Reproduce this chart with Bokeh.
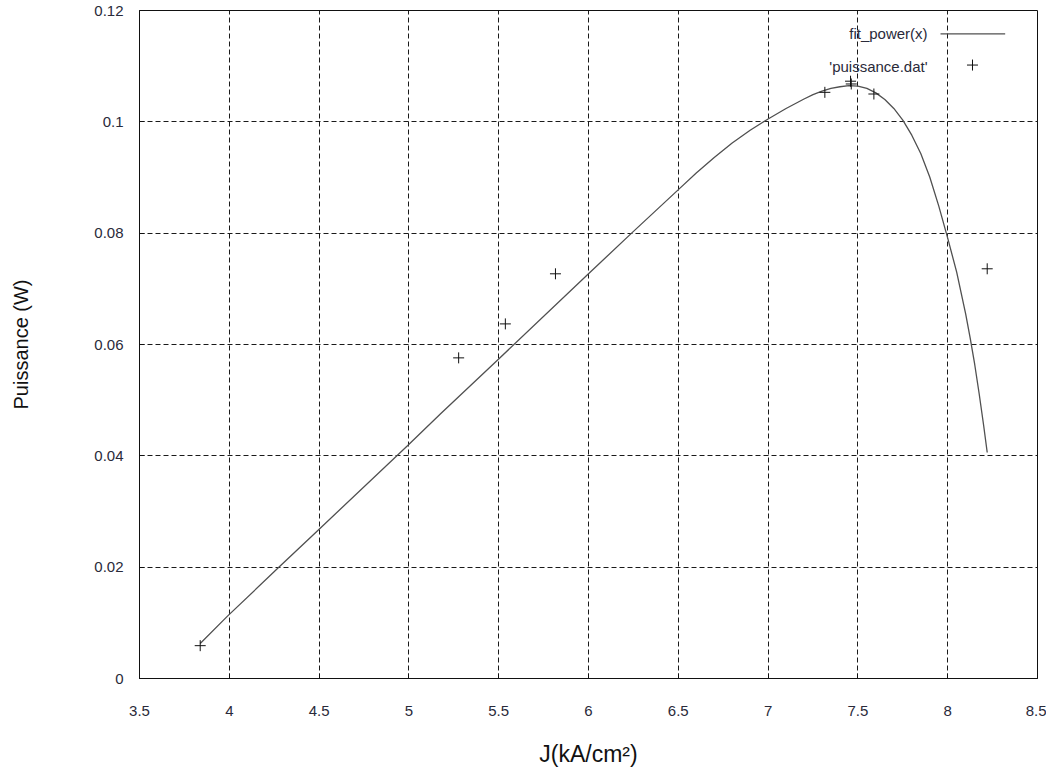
from bokeh.plotting import figure
from bokeh.models import Range1d, FixedTicker, Label, Arrow, Scatter, ColumnDataSource
from bokeh.embed import file_html
from bokeh.resources import INLINE

# measured data points ('puissance.dat')
j_data = [3.838, 5.277, 5.537, 5.816, 7.316, 7.459, 7.463, 7.589, 8.220]
p_data = [0.0059, 0.0576, 0.0637, 0.0727, 0.1053, 0.1073, 0.1068, 0.1050, 0.0736]

# fitted curve fit_power(x)
j_fit = [3.838, 3.990, 4.283, 4.493, 4.992, 5.175, 5.500, 6.000, 6.243, 6.493,
         6.600, 6.700, 6.800, 6.900, 7.000, 7.100, 7.200, 7.250, 7.300, 7.350,
         7.400, 7.450, 7.500, 7.550, 7.600, 7.650, 7.700, 7.750, 7.800, 7.850,
         7.900, 7.950, 8.000, 8.050, 8.100, 8.125, 8.150, 8.175, 8.200, 8.220]
p_fit = [0.0063, 0.0112, 0.0202, 0.0266, 0.0418, 0.0475, 0.0574, 0.0727, 0.0801, 0.0876,
         0.0908, 0.0936, 0.0962, 0.0985, 0.1005, 0.1024, 0.1041, 0.1049, 0.1055, 0.1060,
         0.1063, 0.1065, 0.1064, 0.1060, 0.1052, 0.1040, 0.1024, 0.1003, 0.0976, 0.0943,
         0.0901, 0.0849, 0.0791, 0.0730, 0.0655, 0.0612, 0.0565, 0.0512, 0.0455, 0.0406]

x_ticks = [3.5, 4, 4.5, 5, 5.5, 6, 6.5, 7, 7.5, 8, 8.5]
y_ticks = [0, 0.02, 0.04, 0.06, 0.08, 0.1, 0.12]
x_tick_labels = {3.5: "3.5", 4: "4", 4.5: "4.5", 5: "5", 5.5: "5.5", 6: "6",
                 6.5: "6.5", 7: "7", 7.5: "7.5", 8: "8", 8.5: "8.5"}
y_tick_labels = {0: "0", 0.02: "0.02", 0.04: "0.04", 0.06: "0.06",
                 0.08: "0.08", 0.1: "0.1", 0.12: "0.12"}

FONT = "Liberation Sans"
SMALL = "15px"

p = figure(frame_width=898, frame_height=668, output_backend="svg", toolbar_location=None,
           x_range=Range1d(3.5, 8.5), y_range=Range1d(0, 0.12),
           min_border_left=139, min_border_right=9, min_border_top=10, min_border_bottom=92,
           x_axis_label="J(kA/cm²)", y_axis_label="Puissance (W)")

p.background_fill_color = "white"
p.border_fill_color = "white"
p.outline_line_color = "#111111"
p.outline_line_width = 1

for ax in (p.xaxis[0], p.yaxis[0]):
    ax.axis_line_color = "#111111"
    ax.major_tick_in = 5
    ax.major_tick_out = 0
    ax.minor_tick_line_color = None
    ax.major_tick_line_color = "#111111"
    ax.major_label_text_font = FONT
    ax.major_label_text_font_size = SMALL
    ax.major_label_text_color = "#2a2a3a"
    ax.axis_label_text_font = FONT
    ax.axis_label_text_font_style = "normal"
    ax.axis_label_text_color = "#111111"

p.xaxis.axis_label_text_font_size = "23px"
p.yaxis.axis_label_text_font_size = "20px"
p.xaxis.ticker = FixedTicker(ticks=x_ticks)
p.yaxis.ticker = FixedTicker(ticks=y_ticks)
p.xaxis.major_label_overrides = x_tick_labels
p.yaxis.major_label_overrides = y_tick_labels
p.xaxis.major_label_standoff = 27
p.xaxis.axis_label_standoff = 22
p.yaxis.major_label_standoff = 16
p.yaxis.axis_label_standoff = 59

for g in (p.xgrid[0], p.ygrid[0]):
    g.grid_line_color = "#1a1a1a"
    g.grid_line_dash = "5 3"
    g.grid_line_width = 1

# fitted curve
p.line(j_fit, p_fit, line_color="#505050", line_width=1.3)

# data points
p.scatter(j_data, p_data, marker="cross", size=11, line_color="#111111", line_width=1)

# key (gnuplot style: label right-aligned, sample on the right)
p.add_layout(Label(x=7.888, y=0.1158, text="fit_power(x)", text_align="right",
                   text_baseline="middle", text_font=FONT, text_font_size=SMALL,
                   text_color="#2a2a3a"))
p.add_layout(Label(x=7.888, y=0.1099, text="'puissance.dat'", text_align="right",
                   text_baseline="middle", text_font=FONT, text_font_size=SMALL,
                   text_color="#2a2a3a"))
p.add_layout(Arrow(x_start=7.96, y_start=0.1158, x_end=8.32, y_end=0.1158, end=None,
                   line_color="#505050", line_width=1.3))
key_src = ColumnDataSource(dict(x=[8.138], y=[0.1102]))
p.add_glyph(key_src, Scatter(x="x", y="y", marker="cross", size=11,
                             line_color="#111111", line_width=1))

open("out.html", "w").write(file_html(p, INLINE))
